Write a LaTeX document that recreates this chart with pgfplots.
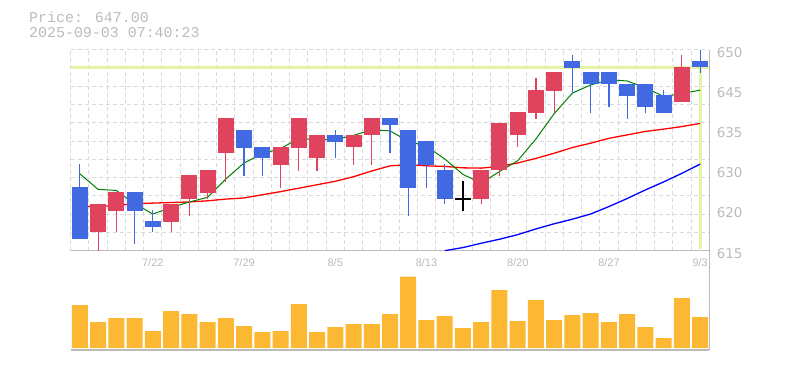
\documentclass[border=0pt]{standalone}
\usepackage{pgfplots}
\pgfplotsset{compat=1.18}
\usepackage{pgfplotstable}
\usepackage{fontspec}
\setmainfont{Liberation Sans}
\newfontfamily\monofont{Liberation Mono}
\newfontfamily\dejavu{DejaVu Sans}
\definecolor{upc}{HTML}{E0435E}
\definecolor{dnc}{HTML}{4169E1}
\definecolor{volc}{HTML}{FDB833}
\definecolor{pricec}{HTML}{E3F5A5}
\definecolor{gridc}{HTML}{D9D9D9}
\definecolor{axc}{HTML}{BBBBBB}
\definecolor{txtc}{HTML}{BBBBBB}
\definecolor{mafc}{HTML}{008000}
\definecolor{matc}{HTML}{FF0000}
\definecolor{masc}{HTML}{0000FF}

% up candles
\pgfplotstableread{
i O H L C
1 618.2 623.2 615.0 623.2
2 622.0 625.3 618.2 625.3
5 620.0 623.2 618.2 623.2
6 624.1 628.2 621.1 628.2
7 625.1 629.1 624.1 629.1
8 632.1 638.2 627.0 638.2
11 630.0 633.1 626.0 633.1
12 633.0 638.2 628.9 638.2
13 631.1 635.2 628.9 635.2
15 633.0 635.2 630.0 635.2
16 635.1 638.2 630.0 638.2
22 624.1 629.1 623.1 629.1
23 629.0 637.2 628.1 637.2
24 635.1 639.2 633.0 639.2
25 639.1 645.2 638.0 643.0
26 642.9 646.2 639.1 646.2
33 641.0 649.1 641.0 647.0
}\upt
% down candles
\pgfplotstableread{
i O H L C
0 626.2 630.2 617.1 617.1
3 625.3 625.3 616.1 622.0
4 620.2 622.1 618.2 619.1
9 636.1 636.1 628.1 633.0
10 633.1 633.1 628.1 631.1
14 635.2 636.1 631.1 634.0
17 638.2 638.2 632.1 637.0
18 636.1 636.1 621.1 626.0
19 634.2 634.2 626.0 630.0
20 629.1 630.2 623.1 624.1
27 648.1 649.1 642.3 646.9
28 646.2 646.2 639.1 644.0
29 646.2 646.2 640.0 644.0
30 644.1 644.1 638.0 642.0
31 644.1 644.1 639.1 640.0
32 642.2 643.0 639.1 639.1
34 648.1 650.0 646.0 647.0
}\dnt
% doji
\pgfplotstableread{
i O H L C
21 624.18 627.2 622.0 624.02
}\djt
% 5-day MA
\pgfplotstableread{
i v
0 628.4
1 625.7
2 625.5
3 623.2
4 621.4
5 622.5
6 623.5
7 624.3
8 627.5
9 630.3
10 631.9
11 632.8
12 634.6
13 634.3
14 634.4
15 635.1
16 636.1
17 635.9
18 634.1
19 633.2
20 631.0
21 628.3
22 626.8
23 628.8
24 630.7
25 634.5
26 638.9
27 642.5
28 643.9
29 644.8
30 644.6
31 643.4
32 641.9
33 642.4
34 643.0
}\mafive
% 25-day MA
\pgfplotstableread{
i v
0 622.7
1 622.7
2 622.9
3 623.2
4 623.3
5 623.4
6 623.5
7 623.7
8 624.0
9 624.2
10 624.75
11 625.3
12 625.9
13 626.5
14 627.1
15 627.9
16 628.9
17 629.8
18 630.0
19 629.8
20 629.7
21 629.45
22 629.4
23 629.7
24 630.3
25 631.1
26 632.0
27 633.0
28 633.75
29 634.6
30 635.2
31 635.8
32 636.2
33 636.65
34 637.2
}\matw
% 75-day MA
\pgfplotstableread{
i v
20 615.0
21 615.55
22 616.3
23 617.0
24 617.8
25 618.8
26 619.7
27 620.5
28 621.4
29 622.7
30 624.1
31 625.6
32 627.0
33 628.5
34 630.1
}\masev
% volume
\pgfplotstableread{
i v
0 43
1 26
2 30
3 30
4 17
5 37
6 34
7 26
8 30
9 22
10 16
11 17
12 44
13 16
14 21
15 24
16 24
17 34
18 71.6
19 28
20 32
21 20
22 26
23 58
24 27
25 48
26 28
27 33
28 35
29 26
30 34
31 21
32 10
33 50
34 31
}\volt

\pgfplotsset{
  wick/.style={draw=none, no markers, forget plot,
    error bars/.cd, y dir=both, y explicit, error mark=none,
    error bar style={draw=#1, solid, line width=1.1bp}},
  body/.style={draw=none, no markers, forget plot,
    error bars/.cd, y dir=both, y explicit, error mark=none,
    error bar style={draw=#1, solid, line width=16bp, line cap=butt}},
}

\begin{document}
\begin{tikzpicture}
\path[use as bounding box] (0,0) rectangle (785bp,370bp);
\node[anchor=base west, text=txtc, font=\monofont\fontsize{15}{15}\selectfont, inner sep=0] at (29bp,347.3bp) {Price: 647.00};
\node[anchor=base west, text=txtc, font=\monofont\fontsize{15}{15}\selectfont, inner sep=0] at (29bp,332.3bp) {2025-09-03 07:40:23};

% volume panel
\begin{axis}[at={(70.7bp,20bp)}, anchor=south west, scale only axis,
  width=638.6bp, height=99bp,
  xmin=-0.5, xmax=34.5, ymin=-2, ymax=97.3,
  axis x line*=bottom, axis y line*=right,
  axis line style={draw=axc, line width=1.4bp},
  xtick=\empty, ytick=\empty,
  minor xtick={-0.5,0.5,...,34.5},
  minor tick length=0pt, major tick length=0pt,
  xminorgrids=true,
  minor grid style={draw=gridc, dash pattern=on 4bp off 3bp, line width=1bp},
]
\addplot[ybar, bar width=16bp, fill=volc, draw=none] table[x=i, y=v] {\volt};
\end{axis}

% price panel
\begin{axis}[at={(70.7bp,119.3bp)}, anchor=south west, scale only axis,
  width=638.6bp, height=200.7bp,
  xmin=-0.5, xmax=34.5, ymin=615, ymax=650,
  axis x line*=bottom, axis y line*=right,
  axis line style={draw=axc, line width=1.4bp},
  xtick={4,9,14,19,24,29,34},
  xticklabels={7/22,7/29,8/5,8/13,8/20,8/27,9/3},
  ytick={615,622,629,636,643,650},
  yticklabels={615,620,630,635,645,650},
  minor xtick={-0.5,0.5,...,34.5},
  minor ytick={615,618.1818,621.3636,624.5455,627.7273,630.9091,634.0909,637.2727,640.4545,643.6364,646.8182,650},
  minor tick length=0pt, major tick length=0pt,
  xminorgrids=true, yminorgrids=true,
  minor grid style={draw=gridc, dash pattern=on 4bp off 3bp, line width=1bp},
  xticklabel style={font=\fontsize{11}{11}\selectfont, text=txtc, yshift=-4bp},
  yticklabel style={font=\dejavu\fontsize{13.5}{13.5}\selectfont, text=txtc, yshift=-2.5bp, xshift=4bp},
]
% current price lines
\addplot[pricec, line width=3bp, forget plot] coordinates {(-0.5,647) (34.5,647)};
\addplot[pricec, line width=3bp, forget plot] coordinates {(34,647) (34,615.3)};
% moving averages
\addplot[masc, line width=1.3bp] table[x=i, y=v] {\masev};
\addplot[matc, line width=1.3bp] table[x=i, y=v] {\matw};
\addplot[mafc, line width=1bp] table[x=i, y=v] {\mafive};
% candles
\addplot[wick=upc] table[x=i, y expr={(\thisrow{H}+\thisrow{L})/2}, y error expr={(\thisrow{H}-\thisrow{L})/2}] {\upt};
\addplot[body=upc] table[x=i, y expr={(\thisrow{O}+\thisrow{C})/2}, y error expr={abs(\thisrow{C}-\thisrow{O})/2}] {\upt};
\addplot[wick=dnc] table[x=i, y expr={(\thisrow{H}+\thisrow{L})/2}, y error expr={(\thisrow{H}-\thisrow{L})/2}] {\dnt};
\addplot[body=dnc] table[x=i, y expr={(\thisrow{O}+\thisrow{C})/2}, y error expr={abs(\thisrow{C}-\thisrow{O})/2}] {\dnt};
\addplot[wick=black] table[x=i, y expr={(\thisrow{H}+\thisrow{L})/2}, y error expr={(\thisrow{H}-\thisrow{L})/2}] {\djt};
\addplot[body=black] table[x=i, y expr={(\thisrow{O}+\thisrow{C})/2}, y error expr={abs(\thisrow{C}-\thisrow{O})/2}] {\djt};
\end{axis}
\end{tikzpicture}
\end{document}
